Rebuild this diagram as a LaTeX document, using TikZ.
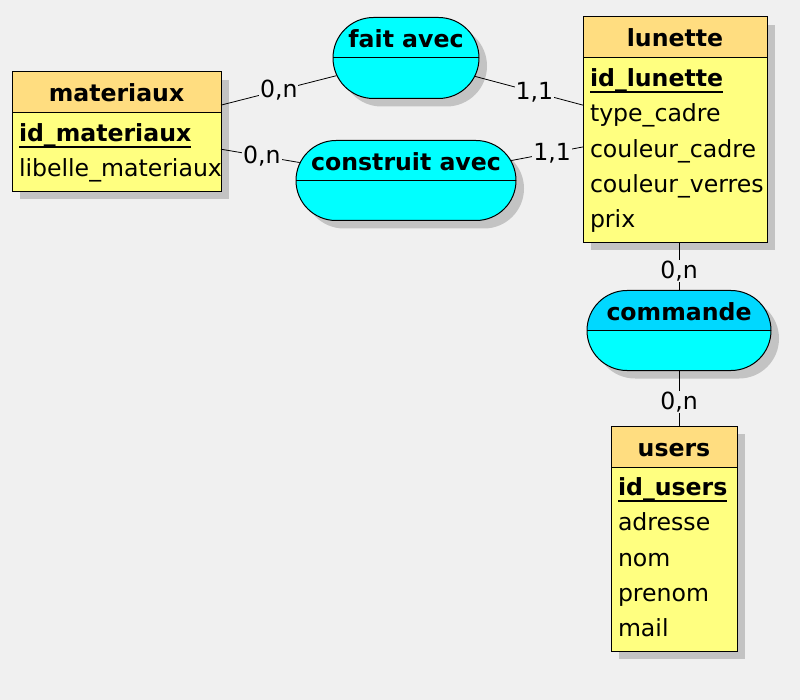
\documentclass[tikz,border=0pt]{standalone}
\usepackage{fontspec}
\setmainfont{DejaVu Sans}
\usepackage{tikz}
\usetikzlibrary{shapes,shadows,positioning,fit}

\definecolor{fond}{HTML}{F0F0F0}
\definecolor{entete}{HTML}{FFDD80}
\definecolor{corps}{HTML}{FFFF80}
\definecolor{cyanasso}{HTML}{00FFFF}
\definecolor{cyansel}{HTML}{00D8FF}
\definecolor{ombre}{HTML}{C3C3C3}

\newsavebox\clebox
\newcommand{\cle}[1]{\sbox\clebox{\bfseries #1}\rlap{\rule[-6pt]{\wd\clebox}{1.1pt}}\usebox\clebox}
\newcommand{\police}{\fontsize{23.6}{35.3}\selectfont}

\tikzstyle{ombrage} = [drop shadow={shadow xshift=8pt, shadow yshift=-8pt, fill=ombre, opacity=1}]
\tikzstyle{entite} = [draw, line width=1pt, fill=entete, ombrage, outer sep=0pt, inner sep=0pt, text height=30pt, text depth=11pt, font=\police\bfseries]
\tikzstyle{attributs} = [draw, line width=1pt, fill=corps, ombrage, outer sep=0pt, inner xsep=7pt, inner ysep=3.8pt, align=left, font=\police]
\tikzstyle{bloc} = [rectangle, inner sep=0pt, outer sep=0pt]
\tikzstyle{asso} = [rounded rectangle, draw, line width=1pt, fill=cyanasso, ombrage, inner sep=0pt, text height=30pt, font=\police\bfseries, path picture={\draw[line width=1pt] (path picture bounding box.west) -- (path picture bounding box.east);}]
\tikzstyle{assosel} = [asso, path picture={\fill[cyansel] (path picture bounding box.north west) rectangle (path picture bounding box.east); \draw[line width=1pt] (path picture bounding box.west) -- (path picture bounding box.east);}]
\tikzstyle{card} = [fill=fond, inner sep=1pt, font=\police]
\tikzstyle{lien} = [draw, line width=0.8pt]

\begin{document}
\begin{tikzpicture}[x=1pt, y=-1pt]

\path[use as bounding box, fill=fond] (0,0) rectangle (800,700);

\node[entite, minimum width=209pt, anchor=north west] (materiaux) at (12,72) {materiaux};
\node[attributs, text width=195pt, below=0pt of materiaux] (materiauxattr) {\strut\cle{id\_materiaux}\\\strut libelle\_materiaux};
\node[bloc, fit=(materiaux)(materiauxattr)] (materiauxbloc) {};

\node[entite, minimum width=184pt, anchor=north west] (lunette) at (583,17) {lunette};
\node[attributs, text width=170pt, below=0pt of lunette] (lunetteattr) {\strut\cle{id\_lunette}\\\strut type\_cadre\\\strut couleur\_cadre\\\strut couleur\_verres\\\strut prix};
\node[bloc, fit=(lunette)(lunetteattr)] (lunettebloc) {};

\node[entite, minimum width=126pt, anchor=north west] (users) at (611,426) {users};
\node[attributs, text width=112pt, below=0pt of users] (usersattr) {\strut\cle{id\_users}\\\strut adresse\\\strut nom\\\strut prenom\\\strut mail};
\node[bloc, fit=(users)(usersattr)] (usersbloc) {};

\node[asso, minimum width=146pt, minimum height=81pt, text depth=51pt, anchor=north] (faitavec) at (406,17) {\makebox[0pt]{fait avec}};
\node[asso, minimum width=220pt, minimum height=80pt, text depth=50pt, anchor=north] (construitavec) at (406,140) {\makebox[0pt]{construit avec}};
\node[assosel, minimum width=184pt, minimum height=80pt, text depth=50pt, anchor=north] (commande) at (679,290) {\makebox[0pt]{commande}};

\path
(materiauxbloc) edge [lien] node[card, pos=0.5] {0,n} (faitavec)
(faitavec) edge [lien] node[card, pos=0.55] {1,1} (lunettebloc)
(materiauxbloc) edge [lien] node[card, pos=0.52] {0,n} (construitavec)
(construitavec) edge [lien] node[card, pos=0.57] {1,1} (lunettebloc)
(commande.north) edge [lien] node[card, pos=0.4] {0,n} (commande.north |- lunettebloc.south)
(commande.south) edge [lien] node[card, pos=0.57] {0,n} (commande.south |- usersbloc.north);
\end{tikzpicture}
\end{document}
